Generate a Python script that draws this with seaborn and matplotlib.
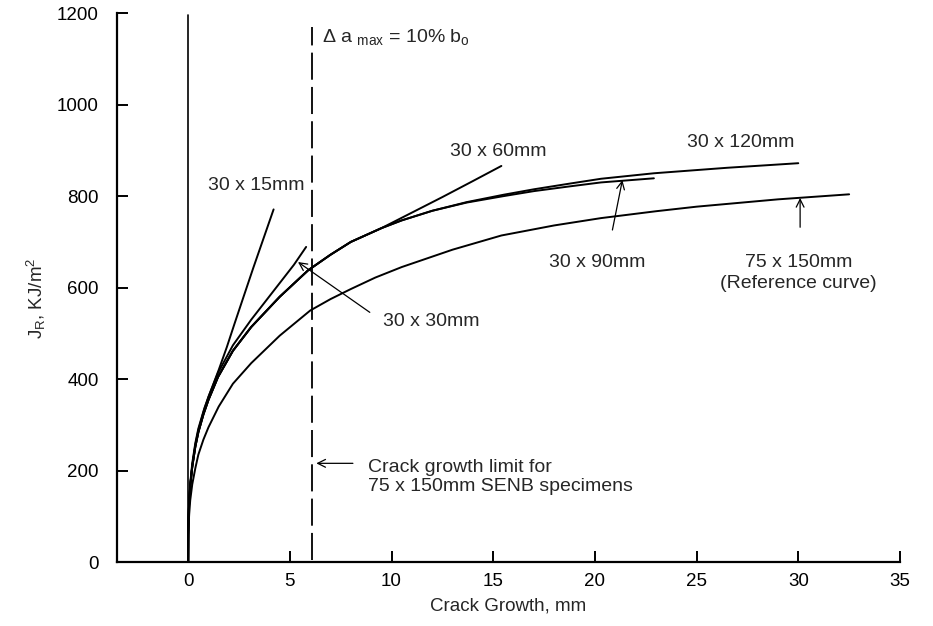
import matplotlib
matplotlib.use("Agg")
import matplotlib.pyplot as plt
import seaborn as sns
import pandas as pd

# ---- data ----
ref_x = [0, 0.005, 0.02, 0.05, 0.1, 0.2, 0.35, 0.5, 0.75, 1.0, 1.5, 2.2, 3.1, 4.5, 6.0,
         7.0, 8.0, 9.2, 10.5, 13, 15.4, 18, 20.3, 23, 25, 29, 32.5]
ref_j = [0, 50, 80, 105, 135, 170, 205, 235, 268, 295, 340, 390, 435, 495, 550,
         575, 597, 622, 645, 683, 714, 736, 752, 767, 777, 793, 804]

grp_x = [0, 0.005, 0.02, 0.05, 0.1, 0.2, 0.35, 0.5, 0.75, 1.0, 1.47, 2.2, 3.1, 4.5,
         5.9, 7.0, 8.0, 9.5]
grp_j = [0, 60, 97, 132, 166, 208, 252, 284, 323, 355, 405, 462, 514, 580,
         638, 672, 700, 730]

s120_x = grp_x + [10.5, 12, 13.7, 15.5, 17, 18.7, 20.3, 22.9, 26.5, 30]
s120_j = grp_j + [747, 768, 787, 803, 815, 827, 838, 850, 862, 872]

s90_x = grp_x + [10.5, 12, 13.7, 15.5, 17, 18.7, 20.3, 22.9]
s90_j = grp_j + [747, 768, 786, 800, 811, 821, 830, 839]

s60_x = grp_x + [11, 12.5, 14, 15.4]
s60_j = grp_j + [764, 798, 833, 866]

s30_x = [0, 0.005, 0.02, 0.05, 0.1, 0.2, 0.35, 0.5, 0.75, 1.0, 1.47, 2.2, 3.1, 3.8, 4.5, 5.2, 5.8]
s30_j = [0, 61, 98, 134, 168, 211, 256, 288, 328, 362, 414, 474, 530, 570, 610, 650, 689]

s15_x = [0, 0.005, 0.02, 0.05, 0.1, 0.2, 0.35, 0.5, 0.8, 1.1, 1.5, 1.9, 2.27, 2.7, 3.2, 3.7, 4.2]
s15_j = [0, 62, 100, 136, 172, 216, 260, 292, 337, 373, 420, 470, 520, 577, 643, 707, 771]

series_names = ["75 x 150mm", "30 x 120mm", "30 x 90mm", "30 x 60mm", "30 x 30mm", "30 x 15mm"]
series_x = [ref_x, s120_x, s90_x, s60_x, s30_x, s15_x]
series_j = [ref_j, s120_j, s90_j, s60_j, s30_j, s15_j]

x_ticks = [0, 5, 10, 15, 20, 25, 30, 35]
y_ticks = [0, 200, 400, 600, 800, 1000, 1200]
da_max = 6.1

rows = []
for name, xs, js in zip(series_names, series_x, series_j):
    for i, (xv, jv) in enumerate(zip(xs, js)):
        rows.append({"series": name, "order": i, "x": xv, "J": jv})
df = pd.DataFrame(rows)

# ---- style ----
sns.set_theme(style="ticks")
plt.rcParams["font.family"] = ["Liberation Sans", "DejaVu Sans"]
plt.rcParams["mathtext.default"] = "regular"
plt.rcParams["font.size"] = 14

fig = plt.figure(figsize=(9.33, 6.26), dpi=100)
ax = fig.add_axes([0.1254, 0.102, 0.8392, 0.877])

sns.lineplot(data=df, x="x", y="J", units="series", estimator=None, sort=False,
             color="black", linewidth=1.4, ax=ax, legend=False)

# vertical line at zero crack growth
ax.plot([0, 0], [0, 1195], color="black", linewidth=1.2)
# crack growth limit (dashed)
ax.plot([da_max, da_max], [5, 1170], color="black", linewidth=1.3,
        dashes=(15, 4))

ax.set_xlim(-3.5, 35)
ax.set_ylim(0, 1200)
ax.set_xticks(x_ticks)
ax.set_yticks(y_ticks)
ax.tick_params(axis="both", direction="in", length=8, width=1.4, labelsize=13.5,
               colors="black")
ax.tick_params(axis="y", pad=13)
ax.tick_params(axis="x", pad=8)
for s in ["top", "right"]:
    ax.spines[s].set_visible(False)
for s in ["left", "bottom"]:
    ax.spines[s].set_linewidth(1.6)
    ax.spines[s].set_color("black")

ax.set_xlabel("Crack Growth, mm", fontsize=13.5, labelpad=5)
ax.set_ylabel(r"J$_{R}$, KJ/m$^{2}$", fontsize=13.5)
ax.yaxis.set_label_coords(-0.088, 0.48)

fs = 14
ax.text(3.34, 824, "30 x 15mm", ha="center", va="center", fontsize=fs)
ax.text(15.27, 898, "30 x 60mm", ha="center", va="center", fontsize=fs)
ax.text(27.15, 918, "30 x 120mm", ha="center", va="center", fontsize=fs)
ax.text(20.13, 654, "30 x 90mm", ha="center", va="center", fontsize=fs)
ax.text(30.0, 632, "75 x 150mm\n(Reference curve)", ha="center", va="center",
        fontsize=fs, linespacing=1.25)
ax.text(11.93, 525, "30 x 30mm", ha="center", va="center", fontsize=fs)
ax.text(6.6, 1148, r"Δ a $_{max}$ = 10% b$_{o}$", ha="left", va="center", fontsize=fs)
ax.text(8.84, 186, "Crack growth limit for\n75 x 150mm SENB specimens", ha="left",
        va="center", fontsize=fs, linespacing=1.15)

arr = dict(arrowstyle="->", color="black", lw=0.9, shrinkA=0, shrinkB=0)
ax.annotate("", xy=(21.35, 835), xytext=(20.86, 726), arrowprops=arr)
ax.annotate("", xy=(30.09, 796), xytext=(30.09, 732), arrowprops=arr)
ax.annotate("", xy=(5.4, 656), xytext=(8.93, 546), arrowprops=arr)
ax.annotate("", xy=(6.3, 216), xytext=(8.1, 216), arrowprops=arr)

fig.savefig("out.png", dpi=100)
